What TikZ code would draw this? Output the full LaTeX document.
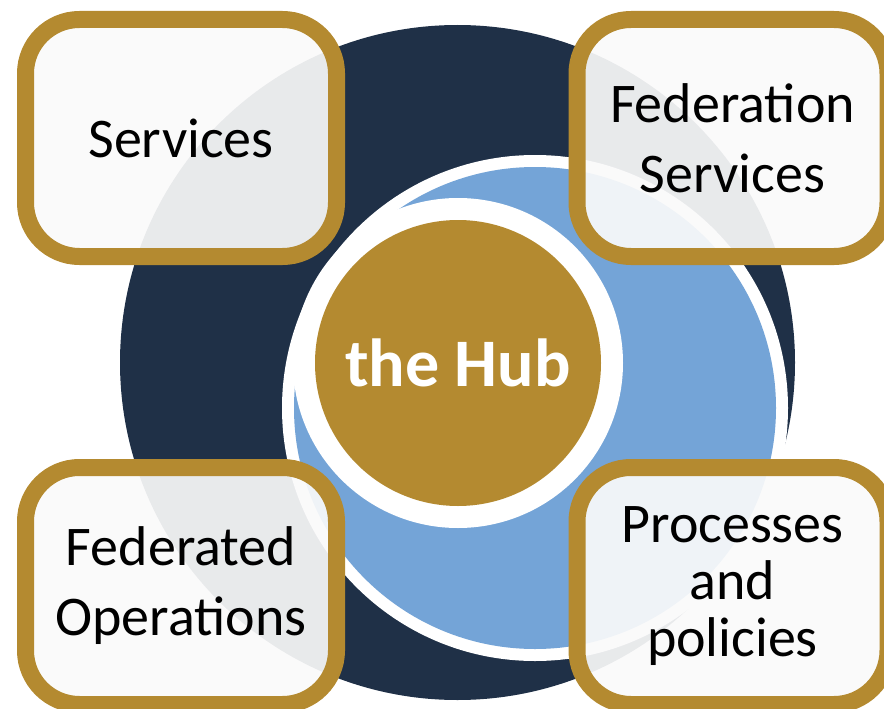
\documentclass[tikz,border=0pt]{standalone}
\usepackage{fontspec}
\setmainfont{Carlito}
\definecolor{navy}{RGB}{31,48,71}
\definecolor{skyblue}{RGB}{116,164,215}
\definecolor{hubgold}{RGB}{180,138,48}
\definecolor{boxfill}{RGB}{250,250,250}
\begin{document}
\begin{tikzpicture}[x=1pt,y=-1pt,
  itembox/.style={draw=hubgold, line width=17pt, rounded corners=54pt,
    fill=boxfill, fill opacity=0.92, text opacity=1, draw opacity=1,
    minimum width=311pt, minimum height=237pt, inner sep=0pt,
    align=center, font=\fontsize{56}{70}\selectfont},
  hubdisc/.style={circle, fill=hubgold, minimum size=286pt, inner sep=0pt,
    text=white, font=\fontsize{68}{70}\selectfont\bfseries}
]
\useasboundingbox (0,0) rectangle (884,709);
% swirl background
\fill[navy] (457.5,362.5) circle[radius=337.5pt];
\fill[white] (535,408) circle[radius=253pt];
\fill[skyblue] (535,408) circle[radius=241pt];
\fill[white] (458,363) circle[radius=165pt];
% hub
\node[hubdisc] (hub) at (458,363) {the Hub};
% boxes
\node[itembox] (services) at (181,138) {Services};
\node[itembox] (fedserv) at (732.5,138) {Federation\\Services};
\node[itembox] (fedops) at (181,586) {Federated\\Operations};
\node[itembox, font=\fontsize{56}{57}\selectfont] (procs) at (732.5,586) {Processes\\and\\policies};
\end{tikzpicture}
\end{document}
